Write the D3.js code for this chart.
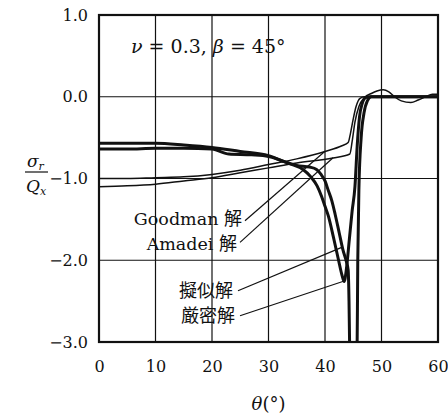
<!DOCTYPE html>
<html>
<head>
<meta charset="utf-8">
<script src="https://cdn.jsdelivr.net/npm/d3@7"></script>
<style>
  body { margin: 0; background: #fff; }
  svg { display: block; }
  .tick text { font-family: "DejaVu Serif", serif; font-size: 16px; fill: #111; }
</style>
</head>
<body>
<svg id="chart" width="448" height="419"></svg>
<script>
// ---- data (theta in degrees, value sigma_r / Q_x) ----
const xTicks = [0, 10, 20, 30, 40, 50, 60];
const yTicks = [1, 0, -1, -2, -3];
const yTickLabels = ["1.0", "0.0", "\u22121.0", "\u22122.0", "\u22123.0"];

const goodman = [
  [0, -1.0], [5, -1.0], [10, -0.99], [15, -0.98], [20, -0.95], [25, -0.9],
  [30, -0.83], [35, -0.76], [40, -0.67], [43, -0.6], [44.1, -0.56],
  [44.5, -0.45], [45.0, -0.27], [45.5, -0.12], [46.2, -0.02], [47, 0], [60, 0]
];
const amadei = [
  [0, -1.1], [5, -1.09], [10, -1.07], [15, -1.03], [20, -0.99], [25, -0.93],
  [30, -0.87], [35, -0.81], [41.4, -0.75], [44.4, -0.7], [44.8, -0.55],
  [45.3, -0.31], [46.0, -0.12], [47.0, -0.01], [48.2, 0.04], [49.2, 0.07],
  [50.3, 0.085], [51.3, 0.06], [52.3, 0.0], [53.5, -0.05], [55.2, -0.07],
  [56.5, -0.04], [57.8, 0.0], [59, 0.03], [60, 0.03]
];
const pseudo = [
  [0, -0.57], [5, -0.57], [10, -0.57], [15, -0.59], [20, -0.62], [25, -0.67],
  [30, -0.72], [33, -0.8], [35, -0.84], [37.3, -0.86], [38.5, -0.89],
  [39.3, -0.95], [40.0, -1.03], [40.6, -1.15], [41.2, -1.27], [41.8, -1.44],
  [42.5, -1.66], [43.2, -1.88], [43.8, -2.02], [44.1, -2.12], [44.25, -2.5],
  [44.35, -3.0], [44.45, -3.3], [45.65, -3.3], [45.8, -2.0], [46.0, -1.13],
  [46.4, -0.5], [46.9, -0.2], [47.5, -0.05], [48.2, 0], [60, 0]
];
const exact = [
  [0, -0.64], [5, -0.64], [10, -0.63], [15, -0.63], [20, -0.64], [23, -0.7],
  [27, -0.71], [30, -0.73], [33.8, -0.82], [36.1, -0.89], [37.5, -0.98],
  [38.6, -1.09], [39.4, -1.22], [40.0, -1.34], [40.6, -1.46], [41.5, -1.72],
  [42.4, -2.0], [43.0, -2.18], [43.4, -2.26], [43.8, -2.1], [44.3, -1.75],
  [44.8, -1.4], [45.3, -1.1], [45.7, -0.6], [46.1, -0.25], [46.6, -0.08],
  [47.2, -0.01], [48, 0], [60, 0]
];

const seriesData = [goodman, amadei, pseudo, exact];

// leader labels: start / end points in data units
const labels = ["Goodman 解", "Amadei 解", "擬似解", "厳密解"];
const leaderStart = [[25.84, -1.517], [24.96, -1.782], [24.6, -2.373], [24.96, -2.679]];
const leaderEnd = [[40.0, -0.667], [41.42, -0.746], [42.96, -1.843], [43.27, -2.257]];

// ---- layout ----
const svg = d3.select("#chart");
const plotLeft = 99, plotRight = 438, plotTop = 15, plotBottom = 342;

const x = d3.scaleLinear().domain([0, 60]).range([plotLeft, plotRight]);
const y = d3.scaleLinear().domain([-3, 1]).range([plotBottom, plotTop]);

// grid
const grid = svg.append("g").attr("stroke", "#111").attr("stroke-width", 1.2);
grid.selectAll(".vg").data(xTicks.slice(1, -1)).enter().append("line")
  .attr("x1", d => x(d)).attr("x2", d => x(d))
  .attr("y1", plotTop).attr("y2", plotBottom);
grid.selectAll(".hg").data(yTicks.slice(1, -1)).enter().append("line")
  .attr("x1", plotLeft).attr("x2", plotRight)
  .attr("y1", d => y(d)).attr("y2", d => y(d));

// curves
svg.append("clipPath").attr("id", "plotClip")
  .append("rect").attr("x", plotLeft).attr("y", plotTop)
  .attr("width", plotRight - plotLeft).attr("height", plotBottom - plotTop);

const line = d3.line()
  .x(d => x(d[0]))
  .y(d => y(d[1]))
  .curve(d3.curveMonotoneX);

svg.append("g").attr("clip-path", "url(#plotClip)")
  .selectAll("path")
  .data(seriesData)
  .enter()
  .append("path")
  .attr("d", line)
  .attr("fill", "none")
  .attr("stroke", "#111")
  .attr("stroke-linejoin", "round")
  .attr("stroke-width", (d, i) => (i < 2 ? 1.5 : 3));

// frame
svg.append("rect")
  .attr("x", plotLeft).attr("y", plotTop)
  .attr("width", plotRight - plotLeft).attr("height", plotBottom - plotTop)
  .attr("fill", "none").attr("stroke", "#111").attr("stroke-width", 2.2);

// axes
const yAxis = svg.append("g")
  .attr("transform", `translate(${plotLeft},0)`)
  .call(d3.axisLeft(y).tickValues(yTicks).tickSize(0).tickPadding(11)
    .tickFormat((d, i) => yTickLabels[i]));
yAxis.select(".domain").remove();

const xAxis = svg.append("g")
  .attr("transform", `translate(0,${plotBottom})`)
  .call(d3.axisBottom(x).tickValues(xTicks).tickSize(0).tickPadding(19)
    .tickFormat(d3.format("d")));
xAxis.select(".domain").remove();

// leader lines + labels
svg.append("g").selectAll("line")
  .data(labels)
  .enter()
  .append("line")
  .attr("x1", (d, i) => x(leaderStart[i][0]))
  .attr("y1", (d, i) => y(leaderStart[i][1]))
  .attr("x2", (d, i) => x(leaderEnd[i][0]))
  .attr("y2", (d, i) => y(leaderEnd[i][1]))
  .attr("stroke", "#111")
  .attr("stroke-width", 1.2);

const labelDy = [4.5, 7.5, 6, 6];
svg.append("g").selectAll("text")
  .data(labels)
  .enter()
  .append("text")
  .attr("x", (d, i) => x(leaderStart[i][0]) - (i < 2 ? 3 : 5))
  .attr("y", (d, i) => y(leaderStart[i][1]) + labelDy[i])
  .attr("text-anchor", "end")
  .style("fill", "#111")
  .each(function (d) {
    const t = d3.select(this);
    const parts = d.split(/([\u3000-\u9fff]+)/).filter(s => s.length);
    parts.forEach(p => {
      const cjk = /[\u3000-\u9fff]/.test(p);
      t.append("tspan")
        .style("font-family", cjk ? "'Noto Sans CJK JP', sans-serif" : "'DejaVu Serif', serif")
        .style("font-size", cjk ? "18px" : "17.5px")
        .text(p);
    });
  });

// annotation in plot
const title = svg.append("text")
  .attr("x", 131).attr("y", 53)
  .style("font-family", "'DejaVu Serif', serif")
  .style("font-size", "19px")
  .style("fill", "#111");
title.append("tspan").style("font-style", "italic").text("ν");
title.append("tspan").text(" = 0.3, ");
title.append("tspan").style("font-style", "italic").text("β");
title.append("tspan").text(" = 45°");

// y-axis title: sigma_r / Q_x
const yt = svg.append("g")
  .style("font-family", "'DejaVu Serif', serif")
  .style("fill", "#111");
const num = yt.append("text").attr("x", 27).attr("y", 167).style("font-size", "17px");
num.append("tspan").style("font-style", "italic").text("σ");
num.append("tspan").style("font-style", "italic").style("font-size", "11px").attr("dy", 3).text("r");
yt.append("line").attr("x1", 25).attr("x2", 48).attr("y1", 172).attr("y2", 172)
  .attr("stroke", "#111").attr("stroke-width", 1.2);
const den = yt.append("text").attr("x", 26).attr("y", 192).style("font-size", "17px");
den.append("tspan").style("font-style", "italic").text("Q");
den.append("tspan").style("font-style", "italic").style("font-size", "11px").attr("dy", 3).text("x");

// x-axis title
const xt = svg.append("text")
  .attr("x", x(30)).attr("y", 410)
  .attr("text-anchor", "middle")
  .style("font-family", "'DejaVu Serif', serif")
  .style("font-size", "18px")
  .style("fill", "#111");
xt.append("tspan").style("font-style", "italic").text("θ");
xt.append("tspan").text("(°)");
</script>
</body>
</html>
